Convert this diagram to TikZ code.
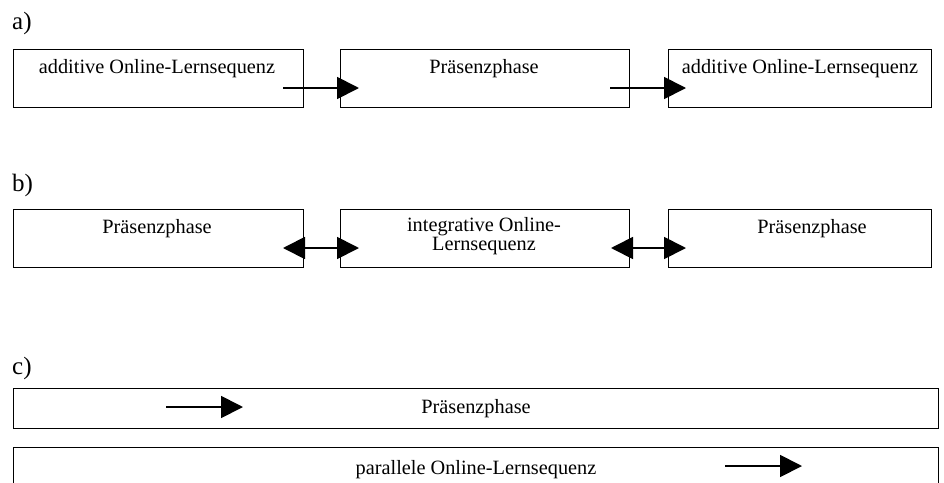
\documentclass[tikz,border=0pt]{standalone}
\usepackage{fontspec}
\setmainfont{Liberation Serif}
\usetikzlibrary{arrows.meta}
\begin{document}
\begin{tikzpicture}[x=1pt,y=-1pt,
  box/.style={draw=black,line width=1pt,inner sep=0pt},
  boxtext/.style={anchor=base,font=\fontsize{20.3}{19}\selectfont,align=center},
  lab/.style={anchor=base west,inner sep=0pt,font=\fontsize{25}{26}\selectfont},
  conn/.style={line width=1.8pt,-{Triangle[length=22pt,width=22pt]}},
  dconn/.style={line width=1.8pt,{Triangle[length=22pt,width=22pt]}-{Triangle[length=22pt,width=22pt]}}]
\useasboundingbox (0,0) rectangle (944,482);
\clip (0,0) rectangle (944,482);
% labels
\node[lab] (la) at (12,29) {a)};
\node[lab] (lb) at (12,191) {b)};
\node[lab] (lc) at (12,374) {c)};
% row a
\draw[box] (13,49) rectangle (303,107);
\draw[box] (340,49) rectangle (629,107);
\draw[box] (668,49) rectangle (931,107);
\node[boxtext] (ta1) at (157,73) {additive Online-Lernsequenz};
\node[boxtext] (ta2) at (484,73) {Präsenzphase};
\node[boxtext] (ta3) at (800,73) {additive Online-Lernsequenz};
\coordinate (a1s) at (283,88); \coordinate (a2e) at (359,88);
\coordinate (a2s) at (610,88); \coordinate (a3e) at (686,88);
\draw[conn] (a1s) -- (a2e);
\draw[conn] (a2s) -- (a3e);
% row b
\draw[box] (13,209) rectangle (303,267);
\draw[box] (340,209) rectangle (629,267);
\draw[box] (668,209) rectangle (931,267);
\node[boxtext] (tb1) at (157,233) {Präsenzphase};
\node[boxtext,anchor=north] (tb2) at (484,214) {integrative Online-\\Lernsequenz};
\node[boxtext] (tb3) at (812,233) {Präsenzphase};
\coordinate (b1e) at (283,248); \coordinate (b2s) at (359,248);
\coordinate (b2e) at (611,248); \coordinate (b3s) at (686,248);
\draw[dconn] (b1e) -- (b2s);
\draw[dconn] (b2e) -- (b3s);
% row c
\draw[box] (13,388) rectangle (938,428);
\draw[box] (13,447) rectangle (938,500);
\node[boxtext] (tc1) at (476,413) {Präsenzphase};
\node[boxtext] (tc2) at (476,474) {parallele Online-Lernsequenz};
\coordinate (c1s) at (166,407); \coordinate (c1e) at (243,407);
\coordinate (c2s) at (725,466); \coordinate (c2e) at (802,466);
\draw[conn] (c1s) -- (c1e);
\draw[conn] (c2s) -- (c2e);
\end{tikzpicture}
\end{document}
